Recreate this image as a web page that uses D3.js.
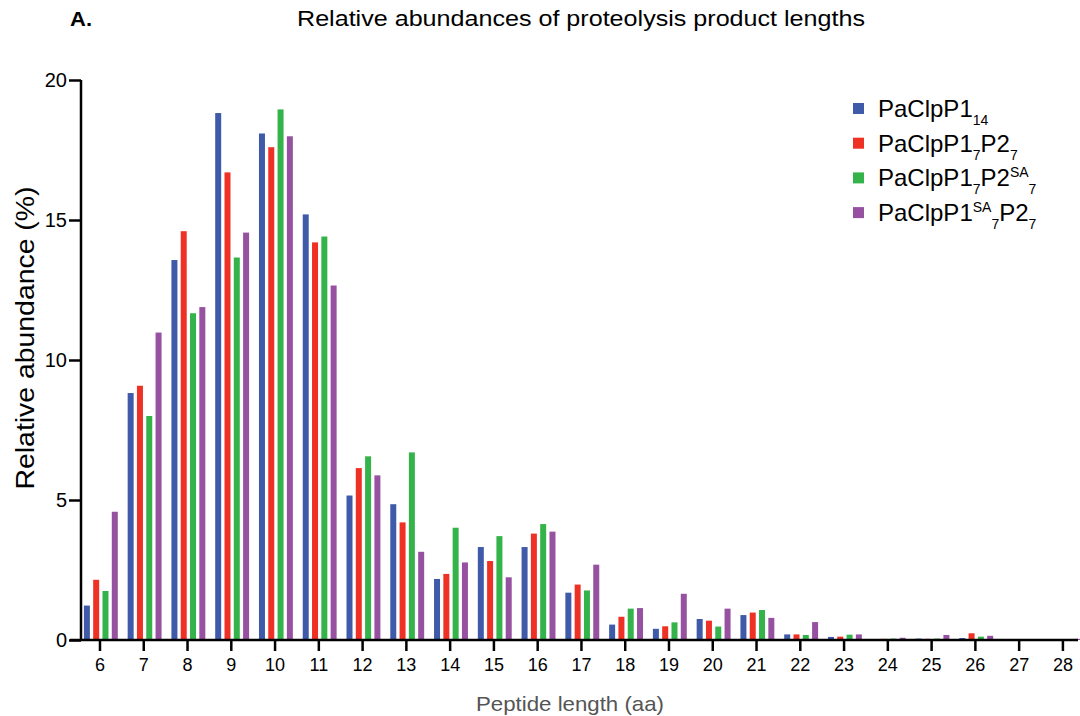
<!DOCTYPE html>
<html>
<head>
<meta charset="utf-8">
<title>Relative abundances of proteolysis product lengths</title>
<style>
  body { margin: 0; background: #fff; }
  svg text { font-family: "Liberation Sans", Arial, Helvetica, sans-serif; }
  .axis path, .axis line { stroke: #000; stroke-width: 2.5px; }
</style>
</head>
<body>
<script src="https://d3js.org/d3.v7.min.js"></script>
<script>
  const width = 1080;
  const height = 716;

  // peptide lengths (aa)
  const categories = [6, 7, 8, 9, 10, 11, 12, 13, 14, 15, 16, 17, 18, 19, 20, 21, 22, 23, 24, 25, 26, 27, 28];
  const seriesKeys = ["p1_14", "p1p2", "p1p2sa", "p1sap2"];
  const seriesColors = ["#3F5AA8", "#EE3124", "#34B34A", "#9652A1"];

  // relative abundance (%)
  const p1_14  = [1.23, 8.82, 13.57, 18.82, 18.09, 15.2, 5.16, 4.85, 2.18, 3.32, 3.32, 1.69, 0.55, 0.40, 0.75, 0.89, 0.20, 0.11, 0.01, 0.05, 0.07, 0, 0];
  const p1p2   = [2.15, 9.08, 14.6, 16.7, 17.6, 14.2, 6.14, 4.2, 2.36, 2.82, 3.80, 1.98, 0.83, 0.49, 0.69, 0.98, 0.20, 0.12, 0.04, 0.04, 0.24, 0, 0];
  const p1p2sa = [1.75, 8.0, 11.67, 13.66, 18.95, 14.41, 6.56, 6.70, 4.01, 3.71, 4.14, 1.77, 1.12, 0.63, 0.48, 1.07, 0.18, 0.19, 0.05, 0.05, 0.12, 0, 0];
  const p1sap2 = [4.58, 10.98, 11.89, 14.55, 17.99, 12.66, 5.88, 3.15, 2.77, 2.24, 3.87, 2.69, 1.14, 1.65, 1.12, 0.79, 0.64, 0.20, 0.08, 0.18, 0.15, 0, 0.04];
  const seriesValues = [p1_14, p1p2, p1p2sa, p1sap2];

  // legend labels: [text, baseline shift] pieces ("sub" / "sup" / "")
  const legendLabels = [
    [["PaClpP1", ""], ["14", "sub"]],
    [["PaClpP1", ""], ["7", "sub"], ["P2", ""], ["7", "sub"]],
    [["PaClpP1", ""], ["7", "sub"], ["P2", ""], ["SA", "sup"], ["7", "sub"]],
    [["PaClpP1", ""], ["SA", "sup"], ["7", "sub"], ["P2", ""], ["7", "sub"]]
  ];

  const yTicks = [0, 5, 10, 15, 20];

  const svg = d3.select("body").append("svg")
      .attr("width", width)
      .attr("height", height);

  const x = d3.scaleBand()
      .domain(categories)
      .range([78.1, 1084.8])
      .padding(0);

  const xSub = d3.scaleBand()
      .domain(seriesKeys)
      .range([0, 33.9])
      .paddingInner(0.355)
      .paddingOuter(0);

  const y = d3.scaleLinear()
      .domain([0, 20])
      .range([640, 80]);

  // bars
  const groups = svg.append("g")
      .selectAll("g")
      .data(categories)
      .join("g")
      .attr("transform", d => `translate(${x(d) + x.bandwidth() / 2 - 16.1},0)`);

  groups.selectAll("rect")
      .data((c, i) => seriesKeys.map((k, s) => ({ key: k, color: seriesColors[s], value: seriesValues[s][i] })))
      .join("rect")
      .attr("x", d => xSub(d.key))
      .attr("width", xSub.bandwidth())
      .attr("y", d => y(d.value))
      .attr("height", d => y(0) - y(d.value))
      .attr("fill", d => d.color);

  // y axis
  const yAxis = svg.append("g")
      .attr("class", "axis")
      .attr("transform", "translate(81,0)")
      .call(d3.axisLeft(y).tickValues(yTicks).tickSize(12).tickPadding(2).tickSizeOuter(0));
  yAxis.select(".domain").attr("d", `M0,${y(20)}V${y(0)}`);
  yAxis.selectAll(".tick text")
      .attr("font-size", 20)
      .attr("fill", "#000");

  // x axis
  const xAxis = svg.append("g")
      .attr("class", "axis")
      .attr("transform", `translate(0,${y(0)})`)
      .call(d3.axisBottom(x).tickSize(11).tickPadding(7).tickSizeOuter(0));
  xAxis.select(".domain").attr("d", "M70,0H1078");
  xAxis.selectAll(".tick text")
      .attr("font-size", 18)
      .attr("fill", "#000");

  // axis titles
  svg.append("text")
      .attr("transform", "translate(34,338) rotate(-90)")
      .attr("text-anchor", "middle")
      .attr("font-size", 25)
      .attr("textLength", 303)
      .attr("lengthAdjust", "spacingAndGlyphs")
      .attr("fill", "#000")
      .text("Relative abundance (%)");

  svg.append("text")
      .attr("x", 570)
      .attr("y", 711)
      .attr("text-anchor", "middle")
      .attr("font-size", 21)
      .attr("textLength", 188)
      .attr("lengthAdjust", "spacingAndGlyphs")
      .attr("fill", "#555")
      .text("Peptide length (aa)");

  // titles
  svg.append("text")
      .attr("x", 70)
      .attr("y", 26)
      .attr("font-size", 20)
      .attr("font-weight", "bold")
      .attr("textLength", 22)
      .attr("lengthAdjust", "spacingAndGlyphs")
      .attr("fill", "#000")
      .text("A.");

  svg.append("text")
      .attr("x", 581)
      .attr("y", 26)
      .attr("text-anchor", "middle")
      .attr("font-size", 22)
      .attr("textLength", 568)
      .attr("lengthAdjust", "spacingAndGlyphs")
      .attr("fill", "#000")
      .text("Relative abundances of proteolysis product lengths");

  // legend
  const legend = svg.append("g")
      .selectAll("g")
      .data(legendLabels)
      .join("g")
      .attr("transform", (d, i) => `translate(853,${117 + i * 34.7})`);

  legend.append("rect")
      .attr("x", 0)
      .attr("y", -14)
      .attr("width", 11)
      .attr("height", 11)
      .attr("fill", (d, i) => seriesColors[i]);

  const label = legend.append("text")
      .attr("x", 25)
      .attr("y", 0)
      .attr("font-size", 24)
      .attr("fill", "#000");

  label.each(function(parts) {
    const t = d3.select(this);
    let shift = 0;
    parts.forEach(([txt, kind]) => {
      const target = kind === "sub" ? 8 : kind === "sup" ? -9 : 0;
      t.append("tspan")
          .attr("dy", target - shift)
          .attr("font-size", kind ? 14 : 24)
          .text(txt);
      shift = target;
    });
  });
</script>
</body>
</html>
